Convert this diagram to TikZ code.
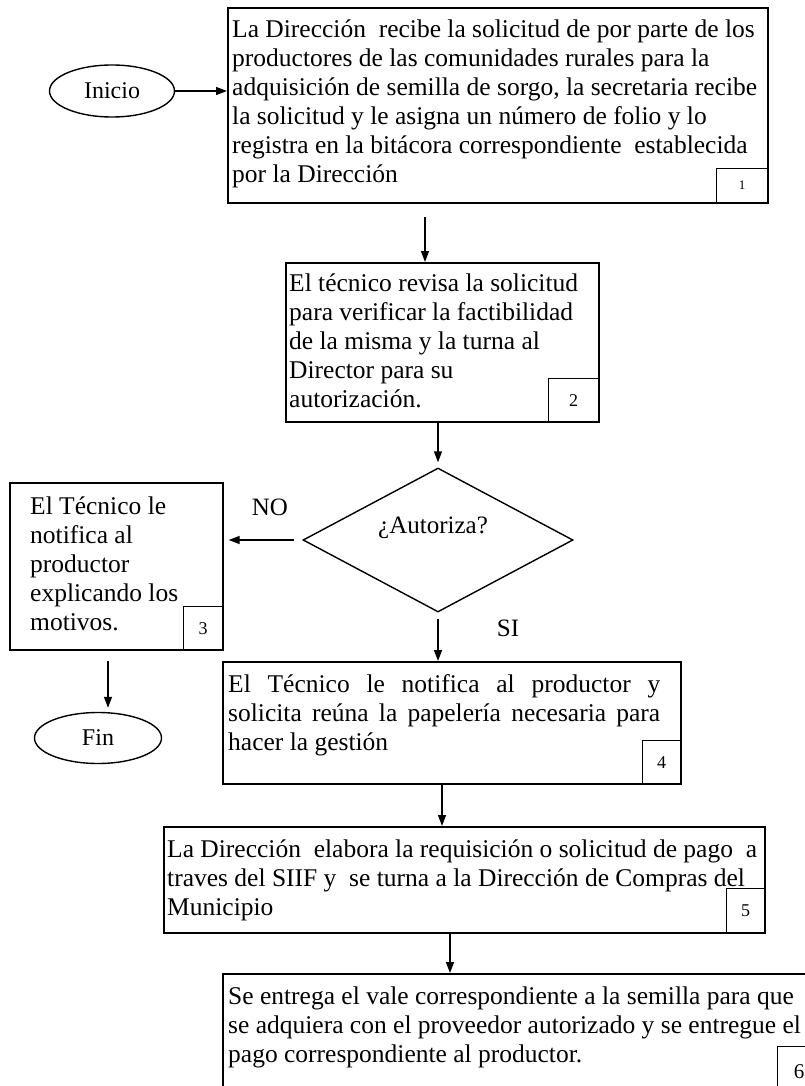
\documentclass[tikz,border=0pt]{standalone}
\usepackage{fontspec}
\setmainfont{Liberation Serif}
\usetikzlibrary{arrows.meta,shapes.geometric,calc}
\begin{document}
\begin{tikzpicture}[x=1pt,y=-1pt,
  box/.style={draw,line width=1.7pt,inner sep=0pt,anchor=north west},
  numbox/.style={draw,line width=1.4pt,inner sep=0pt,anchor=north west,font=\fontsize{18}{18}\selectfont},
  arr/.style={line width=1.4pt,-{Triangle[length=11pt,width=8pt]}},
  txt/.style={inner sep=0pt,anchor=base west,font=\fontsize{25.5}{29}\selectfont},
  term/.style={draw,ellipse,line width=1.4pt,inner sep=0pt,font=\fontsize{24}{24}\selectfont},
  lbl/.style={inner sep=0pt,font=\fontsize{25}{25}\selectfont}]
\useasboundingbox (0,0) rectangle (805,1086);
\clip (0,0) rectangle (805,1086);
\fill[white] (0,0) rectangle (805,1086);

% terminals
\node[term,minimum width=125pt,minimum height=52pt] (inicio) at (112,91) {Inicio};
\node[term,minimum width=127pt,minimum height=51pt] (fin) at (98,738) {Fin};

% box 1
\node[box,minimum width=540pt,minimum height=195pt] (b1) at (227,7) {};
\node[numbox,minimum width=51pt,minimum height=34pt,font=\fontsize{13}{13}\selectfont] (n1) at (716,168) {1};
\node[txt] (t1) at (232,38) {\parbox[t]{540pt}{\raggedright
La Dirección~ recibe la solicitud de por parte de los\\
productores de las comunidades rurales para la\\
adquisición de semilla de sorgo, la secretaria recibe\\
la solicitud y le asigna un número de folio y lo\\
registra en la bitácora correspondiente~ establecida\\
por la Dirección}};

% box 2
\node[box,minimum width=313pt,minimum height=159pt] (b2) at (285,262) {};
\node[numbox,minimum width=50pt,minimum height=43pt] (n2) at (548,378) {2};
\node[txt] (t2) at (289,291) {\parbox[t]{310pt}{\raggedright
El técnico revisa la solicitud\\
para verificar la factibilidad\\
de la misma y la turna al\\
Director para su\\
autorización.}};

% decision
\node[draw,diamond,line width=1.4pt,inner sep=0pt,minimum width=270pt,minimum height=144pt] (dia) at (438,540) {};
\node[lbl] (dq) at (433,528) {¿Autoriza?};

% box 3
\node[box,minimum width=213pt,minimum height=167pt] (b3) at (9,482) {};
\node[numbox,minimum width=39pt,minimum height=43pt] (n3) at (183,606) {3};
\node[txt] (t3) at (30,514) {\parbox[t]{190pt}{\raggedright
El Técnico le\\
notifica al\\
productor\\
explicando los\\
motivos.}};

% box 4
\node[box,minimum width=458pt,minimum height=122pt] (b4) at (222,661) {};
\node[numbox,minimum width=38pt,minimum height=43pt] (n4) at (642,740) {4};
\node[txt] (t4) at (228,692) {\parbox[t]{432pt}{%
\makebox[432pt][s]{El Técnico le notifica al productor y}\\
\makebox[432pt][s]{solicita reúna la papelería necesaria para}\\
hacer la gestión}};

% box 5
\node[box,minimum width=601pt,minimum height=106pt] (b5) at (163,826) {};
\node[numbox,minimum width=38pt,minimum height=44pt] (n5) at (726,888) {5};
\node[txt] (t5) at (167,857) {\parbox[t]{600pt}{\raggedright
La Dirección~ elabora la requisición o solicitud de pago~ a\\
traves del SIIF y~ se turna a la Dirección de Compras del\\
Municipio}};

% box 6
\node[box,minimum width=598pt,minimum height=122pt] (b6) at (222,973) {};
\node[numbox,minimum width=43pt,minimum height=49pt,font=\fontsize{21}{21}\selectfont] (n6) at (777,1046) {6};
\node[txt] (t6) at (228,1004) {\parbox[t]{580pt}{\raggedright
Se entrega el vale correspondiente a la semilla para que\\
se adquiera con el proveedor autorizado y se entregue el\\
pago correspondiente al productor.}};

% labels
\node[lbl] (no) at (270,507) {NO};
\node[lbl] (si) at (508,628) {SI};

% connectors
\draw[arr] (inicio.east) -- (inicio.east -| b1.west);
\coordinate (c2) at (425,217);
\draw[arr] (c2) -- (c2 |- b2.north);
\draw[arr] (dia.north |- b2.south) -- ([yshift=5pt]dia.north);
\draw[arr] ([xshift=-8pt]dia.west) -- ([xshift=5pt]dia.west -| b3.east);
\draw[arr] ([yshift=-6pt]dia.south) -- (dia.south |- b4.north);
\coordinate (c3) at (108,661);
\draw[arr] (c3) -- ([yshift=4pt]c3 |- fin.north);
\coordinate (c4) at (442,783);
\draw[arr] (c4) -- (c4 |- b5.north);
\coordinate (c5) at (450,932);
\draw[arr] (c5) -- (c5 |- b6.north);
\end{tikzpicture}
\end{document}
